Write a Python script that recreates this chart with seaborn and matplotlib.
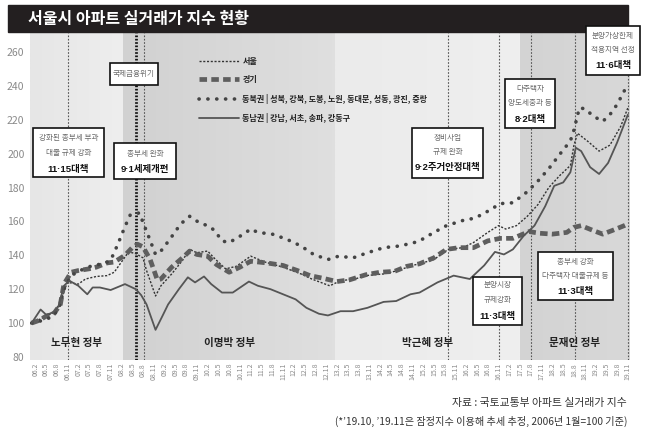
import numpy as np
import pandas as pd
import seaborn as sns
import matplotlib

matplotlib.use("Agg")
import matplotlib.pyplot as plt
from matplotlib.patches import Rectangle
from matplotlib.colors import LinearSegmentedColormap

# month index: 0 = 2006.1
seoul_month = [0, 3, 6, 8, 9, 10, 13, 15, 18, 21, 23, 25, 27, 29, 31, 32, 34.5, 36, 39, 42,
               44, 46, 49, 51, 54, 57, 61, 65, 70, 75, 78, 83, 86, 90, 93, 98, 102, 106, 108, 112,
               116, 120, 123, 127, 130, 132, 135, 138, 141, 144, 147, 150, 151, 152, 155, 158,
               161, 164, 166]
seoul_value = [100, 103, 106, 112, 119, 124, 123, 126, 127.5, 128, 130, 136, 142, 141, 138.5, 131,
               116, 122, 129, 137, 143.5, 141.5, 142.5, 138, 132, 133.5, 139.5, 136, 133, 129, 126,
               122, 125, 126, 128, 129, 131, 134, 135, 137.5, 143.5, 144.5, 147.5, 153.5, 157.5,
               155.5, 157.5, 163, 170, 180, 187, 193, 205, 212, 207, 201.5, 205, 216, 227]

gg_month = [0, 2, 4, 6, 8, 9, 11, 13, 16, 18, 21, 23, 26, 28, 29.5, 31, 33, 35, 36, 39,
            42, 44, 46, 49, 51.5, 55, 58, 61, 65.5, 70, 74, 77.5, 81, 85, 88.5, 93, 97, 101,
            104.5, 108, 112, 115.5, 119, 123, 127, 130.5, 134, 138.5, 141.5, 145, 149, 151, 153,
            156.5, 159, 161.5, 165, 166]
gg_value = [100, 101.5, 104, 105, 111, 123, 130, 131, 132, 133, 135.5, 136, 140, 144.5, 146.5,
            145, 137.5, 125.5, 126, 133, 138.5, 142.5, 140.5, 139.5, 134.5, 130, 133, 136.5,
            135.5, 134, 131, 128, 126.5, 124.5, 125.5, 128.5, 130, 130.5, 133.5, 135, 138.5,
            143.5, 144.5, 144.5, 148.5, 150, 150, 154, 153, 152.5, 153.5, 156.5, 157.5, 154.5,
            152.5, 154.5, 157.5, 158.5]

ne_month = [0, 3, 5.5, 7.5, 9, 11, 13.5, 17, 20, 22, 24, 26, 27.5, 30, 31, 32.5, 34.5, 36, 38.5,
            41.5, 44, 46.5, 49.5, 51, 53, 55, 59, 61, 63, 67, 71, 75, 78.5, 82.5, 85.5, 89.5,
            93.5, 98, 102.5, 106.5, 108, 112, 115.5, 120, 123.5, 127, 130.5, 134, 138, 141.5,
            144.5, 147, 150, 151, 152.5, 154, 156.5, 159, 161, 163, 164.5, 166]
ne_value = [100, 101.5, 103.5, 108, 120, 128, 131, 134, 135, 137, 146.5, 157, 164, 165, 159.5,
            151.5, 140.5, 142.5, 149.5, 158.5, 163, 159.5, 157, 154.5, 148.5, 147.5, 152.5, 155.5,
            153.5, 152.5, 149.5, 145.5, 140.5, 137.5, 139.5, 138.5, 141.5, 144.5, 145.5, 147.5,
            148.5, 153.5, 157.5, 160.5, 162, 166, 170.5, 171, 177.5, 185, 192.5, 199.5, 207.5,
            214, 227, 226.5, 222, 219, 223, 229, 235, 241]

se_month = [0, 2.5, 4, 5, 6.5, 7.5, 9, 10.5, 13, 15.5, 17, 19, 22, 26, 29, 30.5, 32, 34.5, 36.5,
            38, 41, 43.5, 45.5, 48, 50, 53, 56, 60.5, 63, 66.5, 70, 73.5, 76.5, 80, 82.5, 86,
            89.5, 93.5, 98, 101.5, 105.5, 108, 113, 117.5, 122, 126, 129, 131.5, 134, 137, 140,
            143, 145.5, 148, 150, 151.5, 153, 155.5, 158, 160.5, 163, 166]
se_value = [100, 108, 105, 105.5, 107, 110, 122, 125, 122, 117, 121, 121, 119.5, 123, 120, 116.5,
            111, 96, 104.5, 111, 120, 127, 124, 127.5, 123, 118, 118, 124.5, 122, 120, 117, 114,
            109, 105.5, 104.5, 107, 107, 109, 112.5, 113, 117, 118, 124, 128, 126, 134, 142,
            140.5, 143.5, 151.5, 157.5, 169, 181, 183, 189, 203.5, 201.5, 192, 188, 194.5, 206.5,
            223]

series_labels = ["서울", "경기",
                 "동북권 | 성북, 강북, 도봉, 노원, 동대문, 성동, 광진, 중랑",
                 "동남권 | 강남, 서초, 송파, 강동구"]

tick_months = list(range(1, 167, 3))
tick_labels = [f"{6 + m // 12:02d}.{m % 12 + 1}" for m in tick_months]

gov_names = ["노무현 정부", "이명박 정부", "박근혜 정부", "문재인 정부"]
gov_start = [-0.5, 25.5, 84.5, 136]
gov_end = [25.5, 84.5, 136, 166.6]
gov_colors = [("#e6e6e6", "#eeeeee"), ("#d1d1d1", "#dfdfdf"),
              ("#ebebeb", "#efefef"), ("#d3d3d3", "#d8d8d8")]

event_months = [10, 29.1, 31.3, 116, 130, 139, 151.4, 166]

sns.set_style("white")
plt.rcParams["font.family"] = ["Noto Sans CJK KR", "DejaVu Sans"]
LATIN_FIRST = ["Liberation Sans", "Noto Sans CJK KR"]

W, H = 650, 438
fig = plt.figure(figsize=(W / 100, H / 100), dpi=100)


def fx(px):
    return px / W


def fy(py):
    return 1 - py / H


ax = fig.add_axes([fx(30), fy(360), fx(630) - fx(30), fy(33) - fy(360)])
ymin, ymax = 78.2, 271.2

# government backgrounds
grad = np.linspace(0, 1, 64).reshape(1, -1)
for x0, x1, (c0, c1) in zip(gov_start, gov_end, gov_colors):
    cmap = LinearSegmentedColormap.from_list("g", [c0, c1])
    ax.imshow(grad, cmap=cmap, extent=(x0, x1, ymin, ymax), aspect="auto", zorder=0)
ax.set_xlim(-0.45, 166.6)
ax.set_ylim(ymin, ymax)

for name, x0, x1 in zip(gov_names, gov_start, gov_end):
    ax.text((x0 + x1) / 2, 88.3, name, ha="center", va="center", fontsize=7.6,
            fontweight="bold", color="#222222", zorder=2)

# policy lines
for m in event_months:
    if m == 29.1:
        ax.axvline(m, color="#111111", lw=2.0, ls=(0, (0.6, 0.6)), zorder=1)
    else:
        ax.axvline(m, color="#555555", lw=0.8, ls=(0, (1.5, 1.5)), zorder=1)

styles = [
    dict(color="#333333", linewidth=1.0, linestyle=(0, (1.5, 1.2))),
    dict(color="#5e5e5e", linewidth=3.4, linestyle=(0, (1.6, 0.9))),
    dict(color="#444444", linewidth=2.6, linestyle=(0, (0.05, 2.4)), dash_capstyle="round"),
    dict(color="#555555", linewidth=1.3, linestyle="-"),
]
datasets = [(seoul_month, seoul_value), (gg_month, gg_value),
            (ne_month, ne_value), (se_month, se_value)]

handles = []
for (mm, vv), st, lab in zip(datasets, styles, series_labels):
    df = pd.DataFrame({"month": mm, "value": vv})
    sns.lineplot(data=df, x="month", y="value", ax=ax, legend=False, zorder=3, **st)
    line = ax.lines[-1]
    line.set_label(lab)
    handles.append(line)

leg = ax.legend(handles=handles, loc="upper left", bbox_to_anchor=(fx(199), fy(57)),
                bbox_transform=fig.transFigure, frameon=False, fontsize=5.8,
                handlelength=5.0, handletextpad=0.4, labelspacing=1.15,
                borderpad=0, borderaxespad=0)
for t in leg.get_texts():
    t.set_fontweight("bold")
    t.set_color("#222222")

ax.set_yticks(range(80, 261, 20))
ax.set_xticks(tick_months)
ax.set_xticklabels(tick_labels, rotation=90, fontsize=5, color="#8a8a8a")
ax.tick_params(axis="y", length=0, labelsize=7.5, labelcolor="#8a8a8a", pad=4)
ax.tick_params(axis="x", length=0, pad=2)
ax.set_xlabel("")
ax.set_ylabel("")
for s in ax.spines.values():
    s.set_visible(False)

# title bar
fig.add_artist(Rectangle((fx(8), fy(32)), fx(628) - fx(8), fy(5) - fy(32),
                         transform=fig.transFigure, color="#231f20", zorder=5))
fig.text(fx(28), fy(19), "서울시 아파트 실거래가 지수 현황", color="white", fontsize=11.5,
         fontweight="bold", va="center", zorder=6)

# annotation boxes (pixel layout)
boxes = [
    (33, 128, 104, 177, [("강화된 종부세 부과", 138), ("대출 규제 강화", 153)], ("11·15대책", 169)),
    (114, 143, 176, 179, [("종부세 완화", 154)], ("9·1세제개편", 170)),
    (110, 63, 158, 85, [("국제금융위기", 74)], None),
    (412, 128, 483, 178, [("정비사업", 138), ("규제 완화", 152)], ("9·2주거안정대책", 167)),
    (473, 277, 522, 325, [("분양시장", 285), ("규제강화", 300)], ("11·3대책", 316)),
    (505, 79, 555, 128, [("다주택자", 89), ("양도세중과 등", 103)], ("8·2대책", 119)),
    (538, 252, 613, 300, [("종부세 강화", 262), ("다주택자 대출규제 등", 276)], ("11·3대책", 291)),
    (586, 26, 640, 75, [("분양가상한제", 36), ("적용지역 선정", 50)], ("11·6대책", 65)),
]
for x0, y0, x1, y1, desc, bold in boxes:
    fig.add_artist(Rectangle((fx(x0), fy(y1)), fx(x1) - fx(x0), fy(y0) - fy(y1),
                             transform=fig.transFigure, facecolor="white",
                             edgecolor="#111111", lw=1.2, zorder=7))
    xc = fx((x0 + x1) / 2)
    for txt, py in desc:
        fig.text(xc, fy(py), txt, ha="center", va="center", fontsize=5.5,
                 color="#6a6a6a", zorder=8)
    if bold:
        fig.text(xc, fy(bold[1]), bold[0], ha="center", va="center", fontsize=6.8,
                 fontweight="bold", color="#111111", family=LATIN_FIRST, zorder=8)

fig.text(fx(627), fy(403), "자료 : 국토교통부 아파트 실거래가 지수", ha="right", va="center",
         fontsize=7.8, color="#333333")
fig.text(fx(627), fy(421), "(*’19.10, ’19.11은 잠정지수 이용해 추세 추정, 2006년 1월=100 기준)",
         ha="right", va="center", fontsize=7.3, color="#333333")

fig.savefig("out.png", dpi=100)
